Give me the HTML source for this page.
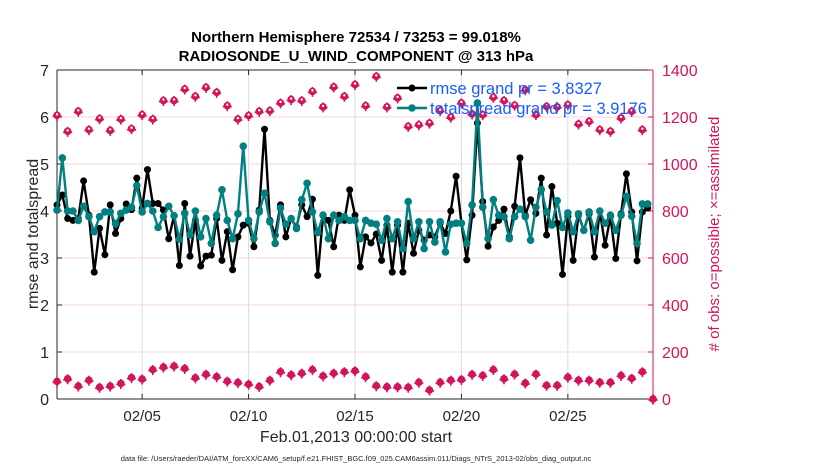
<!DOCTYPE html>
<html><head><meta charset="utf-8">
<style>
html,body{margin:0;padding:0;background:#fff;}
svg{display:block;font-family:"Liberation Sans",sans-serif;}
</style></head>
<body>
<svg id="chart" width="830" height="470" viewBox="0 0 830 470"></svg>
<script>
const rmse=[4.13,4.34,3.84,3.8,3.84,4.64,3.91,2.7,3.63,3.07,4.13,3.52,3.84,4.15,4.03,4.7,4.06,4.88,4.16,4.16,4.02,3.41,3.9,2.84,4.16,3.04,3.8,2.83,3.04,3.06,3.84,2.95,3.56,2.75,3.45,3.7,3.74,3.24,4.02,5.74,3.8,3.49,4.13,3.45,3.84,3.66,4.13,3.88,4.25,2.63,3.91,3.8,3.24,3.91,3.8,4.45,3.91,2.81,3.45,3.32,3.51,2.95,3.7,2.7,3.7,2.7,3.74,3.1,3.59,3.38,3.49,3.45,3.74,3.52,4.0,4.74,3.74,2.96,3.91,5.87,4.2,3.25,3.66,3.8,4.04,3.45,4.1,5.13,3.91,4.24,3.95,4.7,3.49,4.52,3.74,2.65,3.88,2.95,3.91,3.59,3.94,3.02,4.0,3.27,3.88,2.99,3.94,4.79,3.98,2.94,3.98,4.06];
const spread=[4.02,5.13,4.0,4.0,3.8,4.1,3.88,3.56,3.88,3.98,3.98,3.73,3.95,4.02,4.08,4.54,3.98,4.16,4.0,3.65,3.88,4.1,3.9,3.4,3.95,3.49,4.0,3.45,3.84,3.31,3.91,4.45,3.8,3.41,3.94,5.38,3.8,3.41,3.98,4.38,3.77,3.31,4.06,3.72,3.84,3.63,4.24,4.59,3.98,3.54,3.91,3.41,3.91,3.8,3.88,3.8,3.8,3.41,3.8,3.74,3.72,3.38,3.84,3.41,3.77,3.2,4.2,3.41,3.77,3.2,3.77,3.34,3.77,3.13,3.72,3.74,3.74,3.31,4.13,6.3,4.08,3.41,4.24,3.91,3.88,3.41,3.88,4.04,3.88,3.38,4.08,4.46,3.98,3.7,4.22,3.65,3.96,3.56,3.94,3.59,3.98,3.56,4.0,3.74,3.91,3.59,3.91,4.31,3.89,3.31,4.15,4.15];
const obsUpper=[1207,1139,1224,1146,1193,1143,1191,1150,1210,1191,1270,1270,1319,1288,1326,1305,1248,1191,1206,1224,1227,1260,1274,1270,1309,1243,1328,1288,1338,1248,1373,1243,1281,1160,1167,1174,1227,1199,1260,1213,1210,1284,1270,1250,1316,1210,1245,1243,1252,1170,1181,1146,1139,1196,1224,1146,0];
const obsLower=[75,86,55,80,50,55,66,91,85,125,136,140,130,90,105,95,76,70,63,53,80,116,103,110,125,98,110,116,120,95,56,52,52,50,71,38,71,80,83,105,100,125,86,106,68,106,58,58,93,80,80,71,71,100,88,116,0];
const xTicks=[4,9,14,19,24];
const xTickLabels=["02/05","02/10","02/15","02/20","02/25"];
const yTicks=[0,1,2,3,4,5,6,7];
const y2Ticks=[0,200,400,600,800,1000,1200,1400];

const L=57,R=653,T=70,B=399;
const X=d=>L+(d/28)*(R-L);
const Y=v=>B-(v/7)*(B-T);
const Y2=v=>B-(v/1400)*(B-T);
const svg=document.getElementById('chart');
const NS='http://www.w3.org/2000/svg';
function mk(tag,attrs,parent){const e=document.createElementNS(NS,tag);for(const k in attrs)e.setAttribute(k,attrs[k]);(parent||svg).appendChild(e);return e;}
function txt(s,attrs,parent){const e=mk('text',attrs,parent);e.textContent=s;return e;}

const grid=mk('g',{});


xTicks.forEach(d=>{mk('line',{x1:X(d),x2:X(d),y1:T,y2:B,stroke:'#dcdcdc','stroke-width':1},grid);});
y2Ticks.forEach(v=>{if(v>0&&v<1400)mk('line',{x1:L,x2:R,y1:Y2(v),y2:Y2(v),stroke:'#f6d3df','stroke-width':1},grid);});

const axes=mk('g',{});


mk('line',{x1:L,x2:R,y1:T,y2:T,stroke:'#262626','stroke-width':1},axes);
mk('line',{x1:L,x2:R,y1:B,y2:B,stroke:'#262626','stroke-width':1},axes);
mk('line',{x1:L,x2:L,y1:T,y2:B,stroke:'#262626','stroke-width':1},axes);
mk('line',{x1:R,x2:R,y1:T,y2:B,stroke:'#d2145a','stroke-width':1},axes);

const xt=mk('g',{});


xTicks.forEach((d,i)=>{
  mk('line',{x1:X(d),x2:X(d),y1:B,y2:B-5,stroke:'#262626'},xt);
  mk('line',{x1:X(d),x2:X(d),y1:T,y2:T+5,stroke:'#262626'},xt);
  txt(xTickLabels[i],{x:X(d),y:B+22,'text-anchor':'middle','font-size':15,fill:'#262626'},xt);
});
const yt=mk('g',{});


yTicks.forEach(v=>{
  mk('line',{x1:L,x2:L+5,y1:Y(v),y2:Y(v),stroke:'#262626'},yt);
  txt(String(v),{x:L-8,y:Y(v)+6,'text-anchor':'end','font-size':16,fill:'#262626'},yt);
});
const y2t=mk('g',{});


y2Ticks.forEach(v=>{
  mk('line',{x1:R,x2:R-5,y1:Y2(v),y2:Y2(v),stroke:'#d2145a'},y2t);
  txt(String(v),{x:R+9,y:Y2(v)+6,'text-anchor':'start','font-size':16,fill:'#d2145a'},y2t);
});

function obsMarker(g,x,y,ring){
  mk('circle',{cx:x,cy:y,r:3.8,fill:'#d2145a'},g);
  mk('line',{x1:x-4.5,x2:x+4.5,y1:y+1,y2:y+1,stroke:'#d2145a','stroke-width':1.6},g);
  mk('line',{x1:x,x2:x,y1:y-4.5,y2:y+5.5,stroke:'#d2145a','stroke-width':1.6},g);
  if(ring)mk('circle',{cx:x,cy:y-1,r:1.2,fill:'#fff'},g);
}
const gu=mk('g',{});


obsUpper.forEach((v,i)=>obsMarker(gu,X(i*0.5),Y2(v),true));
const gl=mk('g',{});


obsLower.forEach((v,i)=>obsMarker(gl,X(i*0.5),Y2(v),false));

function series(arr,color,r,name){
  const g=mk('g',{});
  
  
  const pts=arr.map((v,i)=>X(i/4)+','+Y(v)).join(' ');
  mk('polyline',{points:pts,fill:'none',stroke:color,'stroke-width':2.4,'stroke-linejoin':'round'},g);
  arr.forEach((v,i)=>mk('circle',{cx:X(i/4),cy:Y(v),r:r,fill:color},g));
}
series(rmse,'#000000',3.5,'rmse-series');
series(spread,'#008080',3.8,'totalspread-series');

const lg=mk('g',{});


mk('line',{x1:397,x2:427,y1:88,y2:88,stroke:'#000','stroke-width':2.4},lg);
mk('circle',{cx:412,cy:88,r:3.5,fill:'#000'},lg);
txt('rmse grand pr = 3.8327',{x:430,y:94,'font-size':16.5,fill:'#1a5cff'},lg);
mk('line',{x1:397,x2:427,y1:108,y2:108,stroke:'#008080','stroke-width':2.4},lg);
mk('circle',{cx:412,cy:108,r:3.8,fill:'#008080'},lg);
txt('totalspread grand pr = 3.9176',{x:430,y:114,'font-size':16.5,fill:'#1a5cff'},lg);
</script>
<svg width="830" height="470" style="position:absolute;left:0;top:0;font-family:'Liberation Sans',sans-serif">
<text x="356" y="42" text-anchor="middle" font-size="15" font-weight="bold" fill="#000">Northern Hemisphere 72534 / 73253 = 99.018%</text>
<text x="356" y="61" text-anchor="middle" font-size="15" font-weight="bold" fill="#000">RADIOSONDE_U_WIND_COMPONENT @ 313 hPa</text>
<text x="356" y="442" text-anchor="middle" font-size="16" fill="#262626">Feb.01,2013 00:00:00 start</text>
<text x="356" y="461" text-anchor="middle" font-size="7.5" fill="#262626">data file: /Users/raeder/DAI/ATM_forcXX/CAM6_setup/f.e21.FHIST_BGC.f09_025.CAM6assim.011/Diags_NTrS_2013-02/obs_diag_output.nc</text>
<text transform="translate(38,234) rotate(-90)" text-anchor="middle" font-size="16" fill="#262626">rmse and totalspread</text>
<text transform="translate(719,234) rotate(-90)" text-anchor="middle" font-size="15" fill="#d2145a"># of obs: o=possible; ×=assimilated</text>
</svg>
</body></html>
